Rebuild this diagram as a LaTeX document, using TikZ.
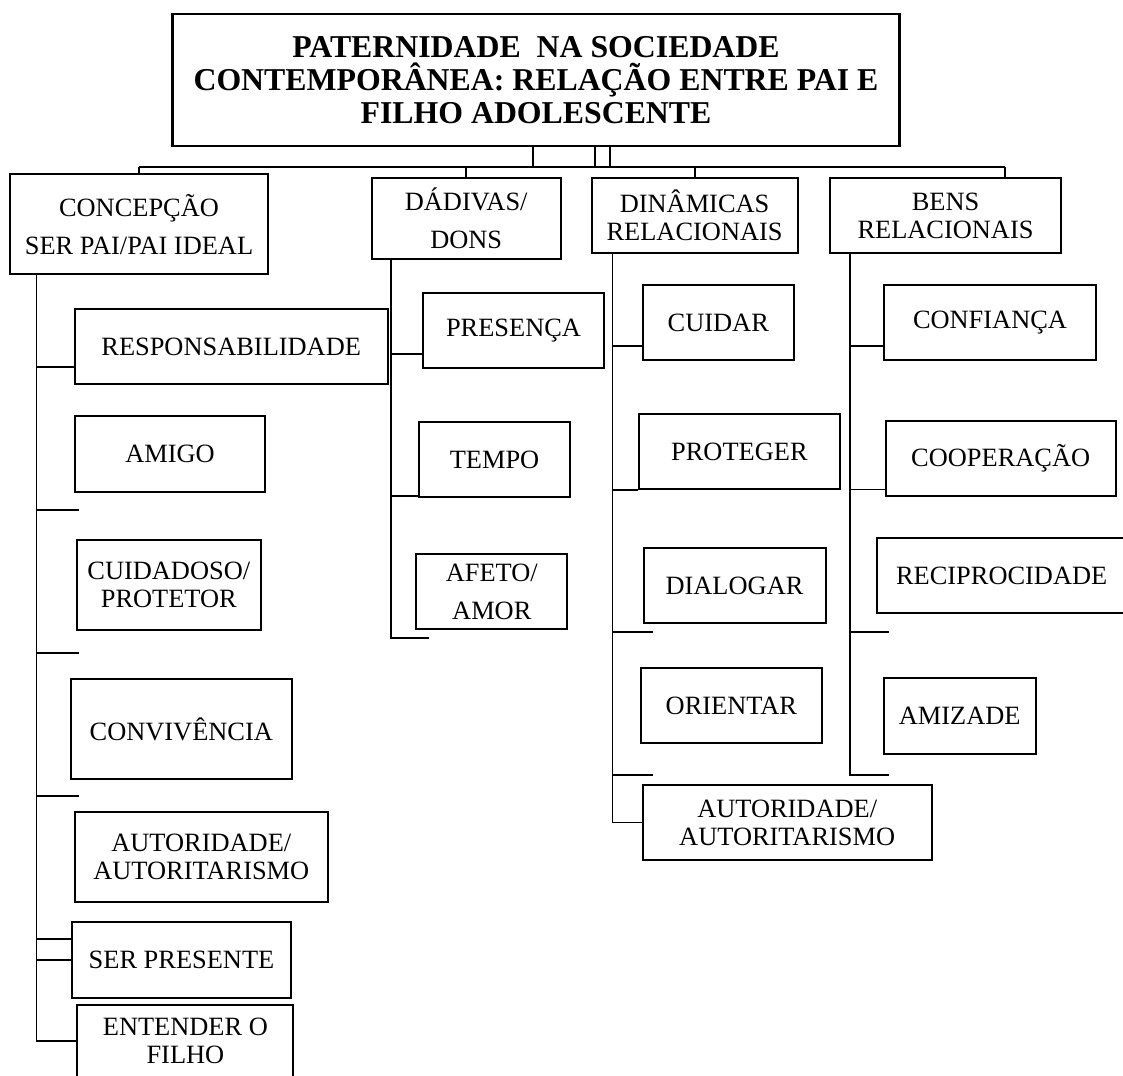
\documentclass[tikz,border=0pt]{standalone}
\usepackage{fontspec}
\setmainfont{Liberation Serif}
\begin{document}
\begin{tikzpicture}[x=1pt, y=-1pt,
    box/.style={draw, line width=2pt, align=center, inner sep=0pt, font=\fontsize{26.4}{28}\selectfont},
    link/.style={line width=1.8pt},
    bus/.style={line width=2.8pt}]
    \useasboundingbox (0,0) rectangle (1123,1075);
    \node[box, line width=2.4pt, minimum width=727pt, minimum height=132pt, font=\fontsize{31.8}{33}\selectfont\bfseries] (titulo) at (536,80) {PATERNIDADE\ \ NA SOCIEDADE\\CONTEMPORÂNEA: RELAÇÃO ENTRE PAI E\\FILHO ADOLESCENTE};
    \node[box, minimum width=258pt, minimum height=100pt] (concepcao) at (139,224.3) {CONCEPÇÃO\\[10pt]SER PAI/PAI IDEAL};
    \node[box, minimum width=189pt, minimum height=81pt] (dadivas) at (466.2,218.4) {DÁDIVAS/\\[10pt]DONS};
    \node[box, minimum width=206pt, minimum height=75pt] (dinamicas) at (694.6,215.4) {DINÂMICAS\\RELACIONAIS};
    \node[box, minimum width=231pt, minimum height=75pt] (bens) at (945.5,215.4) {BENS\\RELACIONAIS};
    \node[box, minimum width=313pt, minimum height=75pt] (resp) at (231.2,346.8) {RESPONSABILIDADE};
    \node[box, minimum width=190pt, minimum height=76pt] (amigo) at (170,454) {AMIGO};
    \node[box, minimum width=184pt, minimum height=90pt] (cuidadoso) at (168.8,585) {CUIDADOSO/\\PROTETOR};
    \node[box, minimum width=221pt, minimum height=100pt] (convivencia) at (181.3,729) {CONVIVÊNCIA};
    \node[box, minimum width=253pt, minimum height=90pt] (autoridadeA) at (201.3,857) {AUTORIDADE/\\AUTORITARISMO};
    \node[box, minimum width=219pt, minimum height=76pt] (serpresente) at (181.5,960) {SER PRESENTE};
    \node[box, minimum width=216pt, minimum height=72pt] (entender) at (185.4,1041) {ENTENDER O\\FILHO};
    \node[box, minimum width=181pt, minimum height=75pt] (presenca) at (513.5,330.3) {PRESENÇA};
    \node[box, minimum width=151pt, minimum height=75pt] (tempo) at (494.5,459.5) {TEMPO};
    \node[box, minimum width=151pt, minimum height=75pt] (afeto) at (491.8,591.5) {AFETO/\\[10pt]AMOR};
    \node[box, minimum width=151pt, minimum height=75pt] (cuidar) at (718.3,322.8) {CUIDAR};
    \node[box, minimum width=201pt, minimum height=75pt] (proteger) at (739.4,451.8) {PROTEGER};
    \node[box, minimum width=182pt, minimum height=75pt] (dialogar) at (734.5,585.8) {DIALOGAR};
    \node[box, minimum width=181pt, minimum height=75pt] (orientar) at (731.4,705.5) {ORIENTAR};
    \node[box, minimum width=289pt, minimum height=75pt] (autoridadeB) at (787.2,822.5) {AUTORIDADE/\\AUTORITARISMO};
    \node[box, minimum width=212pt, minimum height=75pt] (confianca) at (990,322.8) {CONFIANÇA};
    \node[box, minimum width=230pt, minimum height=75pt] (cooperacao) at (1000.7,458.4) {COOPERAÇÃO};
    \node[box, minimum width=250pt, minimum height=75pt] (reciprocidade) at (1001.7,575.7) {RECIPROCIDADE};
    \node[box, minimum width=152pt, minimum height=76pt] (amizade) at (959.7,715.9) {AMIZADE};
    \coordinate (b4) at (1005,167);
    \coordinate (h1) at (36.4,0);
    \coordinate (h2) at (391,0);
    \coordinate (h3) at (612.5,0);
    \coordinate (h4) at (850,0);
    \coordinate (t1) at (79,510);
    \coordinate (t2) at (79,653);
    \coordinate (t3) at (79,796);
    \coordinate (t4) at (428.6,638);
    \coordinate (t5) at (652.5,632);
    \coordinate (t6) at (652.5,775);
    \coordinate (t7) at (888.5,632);
    \coordinate (t8) at (888.5,775);
    \foreach \x in {533,595,610}
        \draw[link] (titulo.south -| \x,0) -- (b4 -| \x,0);
    \draw[bus] (concepcao.north |- b4) -- (b4);
    \foreach \n in {concepcao,dadivas,dinamicas}
        \draw[link] (\n.north |- b4) -- (\n.north);
    \draw[link] (b4) -- (b4 |- bens.north);
    \draw[link] (h1 |- concepcao.south) |- (entender.west);
    \draw[link] ([yshift=-20pt]resp.west) -| (h1 |- concepcao.south);
    \draw[link] (serpresente.west) -| (h1 |- concepcao.south);
    \draw[link] ([yshift=21pt]serpresente.west) -| (h1 |- concepcao.south);
    \foreach \t in {t1,t2,t3}
        \draw[link] (\t) -| (h1 |- concepcao.south);
    \draw[link] (h2 |- dadivas.south) |- (t4);
    \draw[link] ([yshift=-23.5pt]presenca.west) -| (h2 |- dadivas.south);
    \draw[link] ([yshift=2pt]tempo.south west) -| (h2 |- dadivas.south);
    \draw[link] (h3 |- dinamicas.south) |- (autoridadeB.west);
    \draw[link] ([yshift=-23pt]cuidar.west) -| (h3 |- dinamicas.south);
    \draw[link] (proteger.south west) -| (h3 |- dinamicas.south);
    \foreach \t in {t5,t6}
        \draw[link] (\t) -| (h3 |- dinamicas.south);
    \draw[link] (h4 |- bens.south) |- (t8);
    \draw[link] ([yshift=-23pt]confianca.west) -| (h4 |- bens.south);
    \draw[link] ([yshift=-31pt]cooperacao.west) -| (h4 |- bens.south);
    \draw[link] (t7) -| (h4 |- bens.south);
\end{tikzpicture}
\end{document}
